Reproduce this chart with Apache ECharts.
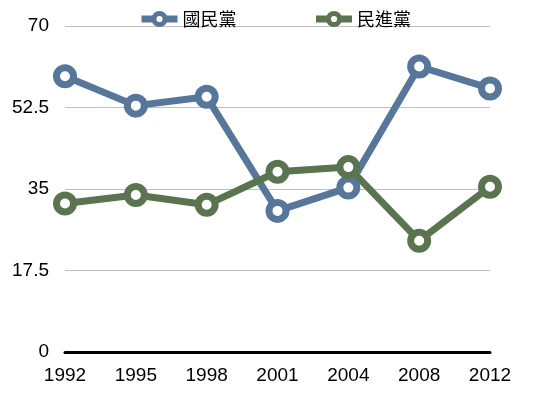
<!DOCTYPE html>
<html>
<head>
<meta charset="utf-8">
<script src="https://cdn.jsdelivr.net/npm/echarts@6/dist/echarts.min.js"></script>
<style>
  html, body { margin: 0; padding: 0; background: #fff; }
  #chart { width: 549px; height: 397px; }
</style>
</head>
<body>
<div id="chart"></div>
<script>
const years = ['1992', '1995', '1998', '2001', '2004', '2008', '2012'];
const kmt = [59.2, 52.9, 54.8, 30.3, 35.3, 61.3, 56.6];
const dpp = [31.9, 33.7, 31.6, 38.7, 39.7, 23.9, 35.5];

const blue = '#57779a';
const green = '#5b7450';
const font = 'Liberation Sans, Arial, sans-serif';

function lineSeries(name, data, color) {
  return {
    name: name,
    type: 'line',
    data: data,
    symbol: 'circle',
    symbolSize: 17,
    showAllSymbol: true,
    lineStyle: { color: color, width: 7 },
    itemStyle: { color: '#fff', borderColor: color, borderWidth: 7 },
    emphasis: { disabled: true },
    z: name === '國民黨' ? 2 : 3
  };
}

const chart = echarts.init(document.getElementById('chart'));
chart.setOption({
  animation: false,
  color: [blue, green],
  legend: {
    top: 5,
    left: 'center',
    itemGap: 76,
    itemWidth: 36,
    itemHeight: 14,
    lineStyle: { width: 7 },
    itemStyle: { borderWidth: 5 },
    textStyle: { fontFamily: 'Noto Sans CJK TC, sans-serif', fontSize: 18, color: '#000' },
    data: ['國民黨', '民進黨']
  },
  grid: { left: 65, right: 59, top: 26, bottom: 45, containLabel: false },
  xAxis: {
    type: 'category',
    data: years,
    boundaryGap: false,
    axisLine: { lineStyle: { color: '#000', width: 3 } },
    axisTick: { show: false },
    axisLabel: { color: '#000', fontFamily: font, fontSize: 19, margin: 14 }
  },
  yAxis: {
    type: 'value',
    min: 0,
    max: 70,
    interval: 17.5,
    axisLine: { show: false },
    axisTick: { show: false },
    splitLine: { lineStyle: { color: '#c0c0c0', width: 1 } },
    axisLabel: { color: '#000', fontFamily: font, fontSize: 19, margin: 16 }
  },
  series: [
    lineSeries('國民黨', kmt, blue),
    lineSeries('民進黨', dpp, green)
  ]
});
</script>
</body>
</html>
